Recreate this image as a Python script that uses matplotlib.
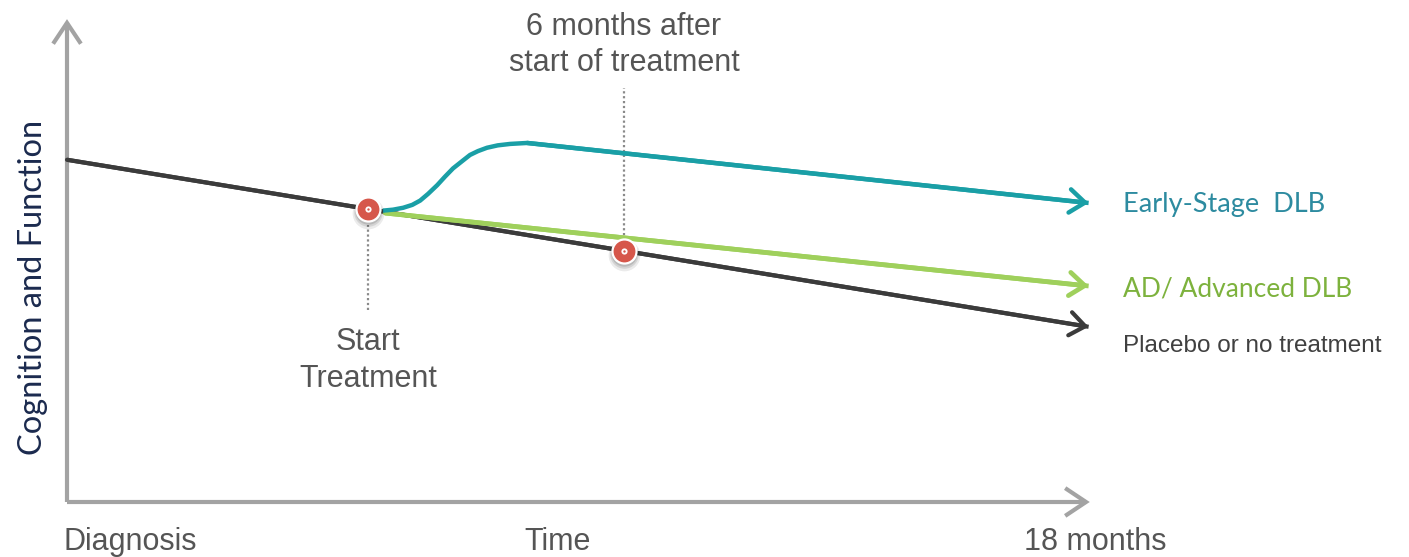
import matplotlib
matplotlib.use("Agg")
import matplotlib.pyplot as plt
from matplotlib import transforms

# ---- data (months since diagnosis, cognition/function score) ----
axis_x_end = 18.07
axis_y_end = 100.0

placebo_x = [0.0, 18.05]
placebo_y = [71.3, 36.5]

advanced_x = [5.62, 18.05]
advanced_y = [60.2, 45.0]

early_x = [5.58, 5.76, 5.94, 6.10, 6.24, 6.38, 6.54, 6.68, 6.82, 6.98,
           7.12, 7.26, 7.42, 7.61, 7.83, 8.13, 18.05]
early_y = [60.7, 60.9, 61.3, 61.9, 62.8, 64.2, 66.0, 67.8, 69.5, 71.0,
           72.3, 73.1, 73.8, 74.3, 74.6, 74.8, 62.3]

event_x = [5.32, 9.84]          # start of treatment, 6 months after start
event_y = [61.1, 52.3]
event_line_top = [57.7, 86.3]
event_line_bottom = [40.0, 53.5]

x_tick_pos = [0.0, 8.66, 18.16]
x_tick_labels = ["Diagnosis", "Time", "18 months"]

series_labels = ["Early-Stage  DLB", "AD/ Advanced DLB", "Placebo or no treatment"]
series_label_y = [62.0, 44.3, 32.5]

# ---- styling ----
teal = "#1a9fa6"
teal_text = "#2d8ba0"
green = "#9fd05c"
green_text = "#7db23d"
dark = "#3b3b3b"
axis_gray = "#a3a3a3"
text_gray = "#555555"
red = "#d6574b"
navy = "#1b2a4e"

W, H = 1409, 557
fig = plt.figure(figsize=(W / 100, H / 100), dpi=100)
ax = fig.add_axes([0, 0, 1, 1])
ppm = 56.6   # pixels per month
pps = 4.8    # pixels per score unit
ax.set_xlim(-67 / ppm, (W - 67) / ppm)
ax.set_ylim(-(H - 502) / pps, 502 / pps)
ax.axis("off")

# axes with open arrowheads
axis_arrow = dict(arrowstyle="->,head_length=0.75,head_width=0.5", lw=3.0,
                  color=axis_gray, shrinkA=0, shrinkB=0, mutation_scale=20,
                  capstyle="butt", joinstyle="miter")
ax.annotate("", xy=(axis_x_end, 0), xytext=(0, 0), arrowprops=axis_arrow, zorder=1)
ax.annotate("", xy=(0, axis_y_end + 0.6), xytext=(0, 0), arrowprops=axis_arrow, zorder=1)

# dotted guides at the two events
for x, y0, y1 in zip(event_x, event_line_bottom, event_line_top):
    ax.plot([x, x], [y0, y1], color="#8a8a8a", lw=1.6, ls=(0, (1, 1.2)), zorder=2)


def arrow_line(xs, ys, color, lw, z):
    ax.plot(xs, ys, color=color, lw=lw,
            solid_capstyle="butt", solid_joinstyle="round", zorder=z)
    ax.annotate("", xy=(xs[-1], ys[-1]), xytext=(xs[-2], ys[-2]),
                arrowprops=dict(arrowstyle="->,head_length=0.55,head_width=0.42",
                                lw=lw, color=color, shrinkA=0, shrinkB=0,
                                mutation_scale=20), zorder=z)


arrow_line(placebo_x, placebo_y, dark, 3.0, 3)
arrow_line(advanced_x, advanced_y, green, 3.4, 4)
arrow_line(early_x, early_y, teal, 3.2, 5)

# event markers with a soft drop shadow
for dy, a, s in [(-4, 0.08, 520), (-3, 0.10, 420), (-2, 0.12, 360)]:
    tr = transforms.offset_copy(ax.transData, fig=fig, x=0, y=dy, units="dots")
    ax.scatter(event_x, event_y, s=s, color="black", alpha=a, lw=0,
               transform=tr, zorder=6)
ax.scatter(event_x, event_y, s=300, color=red, edgecolor="white", linewidth=1.6, zorder=7)
ax.scatter(event_x, event_y, s=20, color="white", lw=0, zorder=8)
ax.scatter(event_x, event_y, s=3, color=red, lw=0, zorder=9)

# x-axis captions
lab_font = dict(family=["Liberation Sans", "DejaVu Sans"], color=text_gray, fontsize=22)
ax.text(x_tick_pos[0] - 0.06, -10.0, x_tick_labels[0], ha="left", va="baseline", **lab_font)
ax.text(x_tick_pos[1], -10.0, x_tick_labels[1], ha="center", va="baseline", **lab_font)
ax.text(x_tick_pos[2], -10.0, x_tick_labels[2], ha="center", va="baseline", **lab_font)

# event captions
ax.text(event_x[0], 24.0, "Start\nTreatment", ha="center", va="baseline",
        linespacing=1.3, **lab_font)
ax.text(event_x[1], 89.7, "6 months after\nstart of treatment", ha="center",
        va="baseline", linespacing=1.3, **lab_font)

# series labels
label_x = (1123 - 67) / ppm
ax.text(label_x, series_label_y[0], series_labels[0], ha="left", va="center",
        family=["Lato", "DejaVu Sans"], fontsize=19.5, color=teal_text)
ax.text(label_x, series_label_y[1], series_labels[1], ha="left", va="center",
        family=["Lato", "DejaVu Sans"], fontsize=19, color=green_text)
ax.text(label_x, series_label_y[2], series_labels[2], ha="left", va="center",
        family=["Liberation Sans", "DejaVu Sans"], fontsize=17.5, color="#404040")

# y-axis caption
ax.text(-34 / ppm, 44.6, "Cognition and Function", rotation=90, ha="center",
        va="center", family=["Lato", "DejaVu Sans"], fontsize=23.5, color=navy)

fig.savefig("out.png", dpi=100)
